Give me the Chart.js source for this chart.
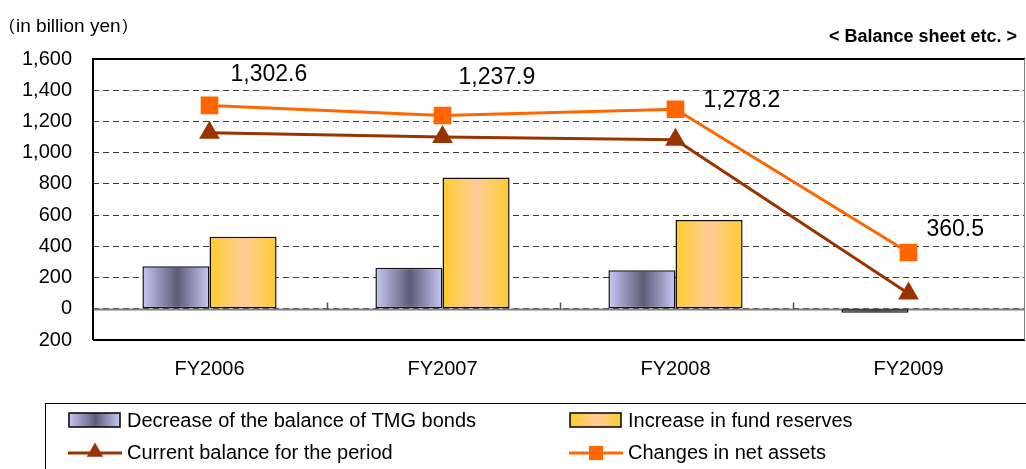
<!DOCTYPE html>
<html><head><meta charset="utf-8">
<script src="https://cdn.jsdelivr.net/npm/chart.js@4/dist/chart.umd.min.js"></script>
<style>html,body{margin:0;padding:0;background:#fff}canvas{display:block}</style>
</head><body>
<canvas id="c" width="1026" height="469"></canvas>
<script>
const categories = ['FY2006', 'FY2007', 'FY2008', 'FY2009'];
const tmgBondDecrease = [273, 263, 247, -25];
const fundReserveIncrease = [461, 841, 568, null];
const currentBalance = [1128, 1100, 1083, 98];
const netAssetChanges = [1302.6, 1237.9, 1278.2, 360.5];
const netAssetLabels = ['1,302.6', '1,237.9', '1,278.2', '360.5'];
const yTickValues = [-200, 0, 200, 400, 600, 800, 1000, 1200, 1400, 1600];
const yTickLabels = ['200', '0', '200', '400', '600', '800', '1,000', '1,200', '1,400', '1,600'];
const seriesNames = ['Decrease of the balance of TMG bonds', 'Increase in fund reserves',
                     'Current balance for the period', 'Changes in net assets'];
const unitLabel = 'in billion yen';
const sectionTitle = '< Balance sheet etc. >';

const FONT = '"Liberation Sans", Arial, sans-serif';
const labelOffsets = [[21, -31], [16, -38], [28, -9], [18, -23]];
const BLUE_EDGE = '#c8c8f6', BLUE_MID = '#5c5c78';
const YEL_EDGE = '#ffcc2e', YEL_MID = '#ffcc99';
const BROWN = '#993300', ORANGE = '#ff6600';

function hGrad(ctx, x0, x1, edge, mid) {
  const g = ctx.createLinearGradient(x0, 0, x1, 0);
  g.addColorStop(0, edge); g.addColorStop(0.52, mid); g.addColorStop(1, edge);
  return g;
}

const decoPlugin = {
  id: 'deco',
  beforeDatasetsDraw(chart) {
    const ctx = chart.ctx, ca = chart.chartArea, y = chart.scales.y, x = chart.scales.x;
    [0, 1].forEach(di => {
      const meta = chart.getDatasetMeta(di);
      meta.data.forEach(el => {
        const x0 = el.x - el.width / 2, x1 = el.x + el.width / 2;
        const g = di === 0 ? hGrad(ctx, x0, x1, BLUE_EDGE, BLUE_MID) : hGrad(ctx, x0, x1, YEL_EDGE, YEL_MID);
        el.options = Object.assign({}, el.options, { backgroundColor: g });
      });
    });
    ctx.save();
    const y0 = Math.round(y.getPixelForValue(0)) + 0.5;
    ctx.strokeStyle = '#808080'; ctx.lineWidth = 2; ctx.setLineDash([]);
    ctx.beginPath(); ctx.moveTo(ca.left, y0); ctx.lineTo(ca.right, y0); ctx.stroke();
    ctx.lineWidth = 1.5; ctx.strokeStyle = '#555';
    for (let i = 1; i < categories.length; i++) {
      const bx = Math.round((x.getPixelForValue(i - 1) + x.getPixelForValue(i)) / 2) + 1.5;
      ctx.beginPath(); ctx.moveTo(bx, y0); ctx.lineTo(bx, y0 - 7); ctx.stroke();
    }
    ctx.strokeStyle = '#000'; ctx.lineWidth = 2;
    ctx.beginPath();
    ctx.moveTo(ca.left, ca.bottom); ctx.lineTo(ca.left, ca.top); ctx.lineTo(ca.right, ca.top);
    ctx.moveTo(ca.left, ca.bottom); ctx.lineTo(ca.right, ca.bottom);
    ctx.stroke();
    ctx.strokeStyle = '#808080'; ctx.lineWidth = 1;
    ctx.beginPath(); ctx.moveTo(ca.right - 0.5, ca.top); ctx.lineTo(ca.right - 0.5, ca.bottom); ctx.stroke();
    ctx.restore();
  },
  afterDraw(chart) {
    const ctx = chart.ctx;
    ctx.save();
    ctx.fillStyle = '#000'; ctx.textBaseline = 'middle'; ctx.textAlign = 'left';
    ctx.font = '16px ' + FONT;
    ctx.fillText('(', 9, 27);
    ctx.font = '19px ' + FONT;
    ctx.fillText(unitLabel, 16, 27);
    const w = ctx.measureText(unitLabel).width;
    ctx.font = '16px ' + FONT;
    ctx.fillText(')', 16 + w + 2, 27);
    ctx.font = 'bold 18px ' + FONT; ctx.textAlign = 'right';
    ctx.fillText(sectionTitle, 1017, 37);
    ctx.font = '23px ' + FONT; ctx.textAlign = 'left';
    const meta = chart.getDatasetMeta(3);
    meta.data.forEach((pt, i) => {
      ctx.fillText(netAssetLabels[i], pt.x + labelOffsets[i][0], pt.y + labelOffsets[i][1]);
    });
    ctx.strokeStyle = '#000'; ctx.lineWidth = 1;
    ctx.strokeRect(45.5, 403.5, 1100, 100);
    const ds = chart.data.datasets;
    const cols = [69, 570], rows = [420, 453];
    ctx.font = '20px ' + FONT; ctx.textAlign = 'left'; ctx.textBaseline = 'middle';
    [0, 1].forEach(i => {
      const sx = cols[i], sy = rows[0];
      ctx.fillStyle = i === 0 ? hGrad(ctx, sx, sx + 51, BLUE_EDGE, BLUE_MID) : hGrad(ctx, sx, sx + 51, YEL_EDGE, YEL_MID);
      ctx.fillRect(sx, sy - 7, 51, 14);
      ctx.lineWidth = 1.5; ctx.strokeStyle = '#000';
      ctx.strokeRect(sx, sy - 7, 51, 14);
      ctx.fillStyle = '#000';
      ctx.fillText(ds[i].label, sx + 58, sy + 1);
    });
    [2, 3].forEach((di, k) => {
      const sx = cols[k] - 1, sy = rows[1];
      const col = ds[di].borderColor;
      ctx.strokeStyle = col; ctx.lineWidth = 3;
      ctx.beginPath(); ctx.moveTo(sx, sy); ctx.lineTo(sx + 54, sy); ctx.stroke();
      ctx.fillStyle = col;
      Chart.helpers.drawPoint(ctx, { pointStyle: ds[di].pointStyle, radius: di === 2 ? 9.5 : 10, rotation: 0, borderWidth: 0 }, sx + 27, sy - (di === 2 ? 1 : 0));
      ctx.fillStyle = '#000';
      ctx.fillText(ds[di].label, cols[k] + 58, sy);
    });
    ctx.restore();
  }
};

new Chart(document.getElementById('c'), {
  data: {
    labels: categories,
    datasets: [
      { type: 'bar', label: seriesNames[0], data: tmgBondDecrease, backgroundColor: BLUE_MID,
        borderColor: '#111', borderWidth: 1.5, borderSkipped: false, order: 3,
        barPercentage: 1, categoryPercentage: 0.576 },
      { type: 'bar', label: seriesNames[1], data: fundReserveIncrease, backgroundColor: YEL_EDGE,
        borderColor: '#111', borderWidth: 1.5, borderSkipped: false, order: 3,
        barPercentage: 1, categoryPercentage: 0.576 },
      { type: 'line', label: seriesNames[2], data: currentBalance, borderColor: BROWN, backgroundColor: BROWN,
        borderWidth: 3, pointStyle: 'triangle', pointRadius: 12, pointBorderWidth: 0,
        pointBackgroundColor: BROWN, order: 2, tension: 0 },
      { type: 'line', label: seriesNames[3], data: netAssetChanges, borderColor: ORANGE, backgroundColor: ORANGE,
        borderWidth: 3, pointStyle: 'rect', pointRadius: 12.5, pointBorderWidth: 0,
        pointBackgroundColor: ORANGE, order: 1, tension: 0 }
    ]
  },
  options: {
    responsive: false, animation: false, devicePixelRatio: 1,
    layout: { autoPadding: false, padding: { top: 59, right: 1, left: 0, bottom: 0 } },
    plugins: { legend: { display: false }, tooltip: { enabled: false } },
    scales: {
      x: {
        grid: { display: false, drawTicks: false },
        border: { display: false },
        ticks: { color: '#000', font: { family: FONT, size: 20 }, padding: 17 },
        afterFit(s) { s.height = 129; s.paddingLeft = 0; s.paddingRight = 0; }
      },
      y: {
        min: -200, max: 1600,
        afterBuildTicks(s) { s.ticks = yTickValues.map(v => ({ value: v })); },
        grid: { color: '#3a3a3a', lineWidth: 1, drawTicks: false },
        border: { display: false, dash: [6, 4] },
        ticks: { color: '#000', font: { family: FONT, size: 20 }, padding: 21,
          callback(v) { const i = yTickValues.indexOf(v); return i >= 0 ? yTickLabels[i] : ''; } },
        afterFit(s) { s.width = 93; s.paddingTop = 0; s.paddingBottom = 0; }
      }
    }
  },
  plugins: [decoPlugin]
});
</script>
</body></html>
